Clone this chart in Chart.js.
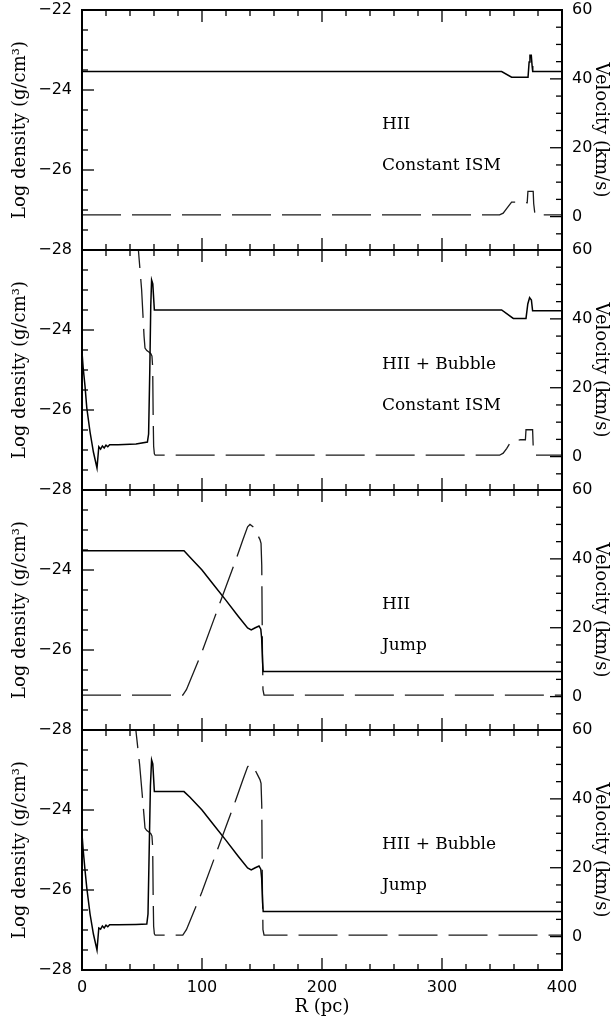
<!DOCTYPE html>
<html>
<head>
<meta charset="utf-8">
<script src="https://cdn.jsdelivr.net/npm/chart.js@4.4.1/dist/chart.umd.min.js"></script>
<style>
  html, body { margin: 0; padding: 0; background: #fff; }
  #fig { position: relative; width: 611px; height: 1023px; overflow: hidden; }
  #fig canvas { position: absolute; left: 0; }
</style>
</head>
<body>
<div id="fig">
  <canvas id="p1" width="611" height="280" style="top:-10px"></canvas>
  <canvas id="p2" width="611" height="280" style="top:230px"></canvas>
  <canvas id="p3" width="611" height="280" style="top:470px"></canvas>
  <canvas id="p4" width="611" height="313" style="top:710px"></canvas>
</div>
<script>
// tick labels
const rTickLabels = [0, 100, 200, 300, 400];
const densTickLabels = [-22, -24, -26, -28];
const velTickLabels = [0, 20, 40, 60];

// panel captions
const panelTitles = [
    ['HII', 'Constant ISM'],
    ['HII + Bubble', 'Constant ISM'],
    ['HII', 'Jump'],
    ['HII + Bubble', 'Jump']
];

// Panel 1: HII, constant ISM
const r1Dens = [0, 349.7, 358, 371.7, 372.6, 373.3, 374.4, 375.1, 375.6, 400];
const dens1  = [-23.54, -23.54, -23.68, -23.68, -23.3, -23.13, -23.13, -23.4, -23.54, -23.54];
const r1Vel  = [0, 348, 351, 354, 358, 366, 371, 371.6, 376, 376.4, 377.5, 400];
const vel1   = [0.5, 0.5, 1.0, 2.4, 4.2, 4.2, 4.0, 7.3, 7.3, 3.8, 0.5, 0.5];

// Panel 2: HII + bubble, constant ISM
const r2Dens = [0, 1, 2.5, 4, 6.7, 9.5, 12.5, 14, 15.5, 17, 18.5, 20, 21.5, 23, 30, 45, 54.5, 55.5, 56.5, 57.3, 58, 59, 60.3, 349.7, 359.4, 370, 371.5, 373, 374.5, 375.5, 400];
const dens2  = [-24.55, -24.95, -25.4, -25.95, -26.55, -27.05, -27.45, -26.92, -26.98, -26.9, -26.95, -26.88, -26.92, -26.87, -26.87, -26.85, -26.8, -26.6, -25.0, -23.4, -22.75, -22.85, -23.5, -23.5, -23.71, -23.71, -23.35, -23.19, -23.25, -23.52, -23.52];
const r2Vel  = [44, 47, 49.7, 51.7, 52.5, 54, 56, 57.5, 58.3, 58.9, 59.3, 59.7, 60.3, 61, 348, 351, 354, 357.5, 365.5, 369.5, 370, 375.5, 376, 377.5, 400];
const vel2   = [66, 60, 48.4, 35, 31.5, 30.8, 30.3, 29.8, 29.2, 26, 12, 3, 0.8, 0.4, 0.4, 1.0, 2.4, 4.4, 4.9, 4.9, 7.8, 7.8, 3, 0.4, 0.4];

// Panel 3: HII, density jump
const r3Dens = [0, 85, 90, 100, 110, 120, 130, 138, 141, 144, 147.5, 149, 149.7, 150.5, 151, 400];
const dens3  = [-23.52, -23.52, -23.68, -24.0, -24.38, -24.76, -25.15, -25.45, -25.5, -25.45, -25.4, -25.48, -25.7, -26.3, -26.54, -26.54];
const r3Vel  = [0, 84, 87, 90, 100, 110, 120, 128, 134, 138, 140, 143, 146, 148.3, 149.2, 149.8, 150.3, 150.8, 151.7, 400];
const vel3   = [0.4, 0.4, 2, 4.5, 13, 22.5, 32, 39.5, 45.5, 49.3, 50, 49.2, 47.2, 45.6, 44.5, 38, 15, 2, 0.4, 0.4];

// Panel 4: HII + bubble, density jump
const r4Dens = [0, 1, 2.5, 4, 6.7, 9.5, 12.5, 14, 15.5, 17, 18.5, 20, 21.5, 23, 30, 45, 54, 55, 56, 57, 58, 59, 60.3, 85, 90, 100, 110, 120, 130, 138, 141, 144, 147.5, 149, 149.7, 150.5, 151, 400];
const dens4  = [-24.6, -25.0, -25.5, -25.95, -26.6, -27.1, -27.5, -26.95, -26.98, -26.9, -26.95, -26.88, -26.92, -26.87, -26.87, -26.86, -26.85, -26.6, -25.0, -23.4, -22.75, -22.85, -23.54, -23.54, -23.68, -24.0, -24.38, -24.76, -25.15, -25.45, -25.5, -25.45, -25.4, -25.48, -25.7, -26.3, -26.54, -26.54];
const r4Vel  = [43, 45.5, 48, 50, 51.7, 52.5, 54, 56, 57.5, 58.3, 58.9, 59.3, 59.7, 60.3, 61, 84, 87, 90, 100, 110, 120, 128, 134, 138, 140, 143, 146, 148.3, 149.2, 149.8, 150.3, 150.8, 151.7, 400];
const vel4   = [66, 58, 50, 42, 35, 31.5, 30.8, 30.3, 29.8, 29.2, 26, 12, 3, 0.8, 0.4, 0.4, 2, 4.5, 13, 22.5, 32, 39.5, 45.5, 49.3, 50, 49.2, 47.2, 45.6, 44.5, 38, 15, 2, 0.4, 0.4];

const panels = [
    { id: 'p1', rDens: r1Dens, dens: dens1, rVel: r1Vel, vel: vel1 },
    { id: 'p2', rDens: r2Dens, dens: dens2, rVel: r2Vel, vel: vel2 },
    { id: 'p3', rDens: r3Dens, dens: dens3, rVel: r3Vel, vel: vel3 },
    { id: 'p4', rDens: r4Dens, dens: dens4, rVel: r4Vel, vel: vel4 }
];

Chart.defaults.font.family = '"DejaVu Sans", sans-serif';
Chart.defaults.color = '#000';

const numFont = { family: '"DejaVu Sans", sans-serif', size: 16 };
const labelFont = { family: '"DejaVu Serif", serif', size: 18 };
const minus = v => (v < 0 ? '\u2212' + Math.abs(v) : String(v));

// frame, inward tick marks and the panel caption
const frameTicks = {
    id: 'frameTicks',
    afterDraw(chart, args, opts) {
        const { ctx, chartArea: a, scales } = chart;
        const x = scales.x, y = scales.y, v = scales.v;
        ctx.save();
        ctx.strokeStyle = '#000';
        ctx.lineWidth = 1.3;
        const seg = (x0, y0, x1, y1) => {
            ctx.beginPath(); ctx.moveTo(x0, y0); ctx.lineTo(x1, y1); ctx.stroke();
        };
        for (let r = x.min; r <= x.max; r += 20) {
            const px = x.getPixelForValue(r);
            const len = r % 100 === 0 ? 12 : 6;
            seg(px, a.top, px, a.top + len);
            seg(px, a.bottom, px, a.bottom - len);
        }
        for (let d = y.min; d <= y.max + 1e-9; d += 0.5) {
            const py = y.getPixelForValue(d);
            seg(a.left, py, a.left + (d % 2 === 0 ? 12 : 6), py);
        }
        for (let s = Math.ceil(v.min / 5) * 5; s <= v.max; s += 5) {
            const py = v.getPixelForValue(s);
            seg(a.right, py, a.right - (s % 20 === 0 ? 12 : 6), py);
        }
        ctx.lineWidth = 2;
        ctx.strokeRect(a.left, a.top, a.right - a.left, a.bottom - a.top);

        ctx.fillStyle = '#000';
        ctx.font = '17px "DejaVu Serif", serif';
        ctx.textAlign = 'left';
        ctx.textBaseline = 'middle';
        const tx = x.getPixelForValue(250);
        ctx.fillText(opts.lines[0], tx, y.getPixelForValue(-24.875));
        ctx.fillText(opts.lines[1], tx, y.getPixelForValue(-25.9));
        ctx.restore();
    }
};

panels.forEach((p, i) => {
    const bottom = i === panels.length - 1;
    const ctx = document.getElementById(p.id).getContext('2d');
    new Chart(ctx, {
        type: 'line',
        data: {
            datasets: [{
                label: 'Log density',
                data: p.rDens.map((r, k) => ({ x: r, y: p.dens[k] })),
                yAxisID: 'y',
                borderColor: '#000',
                borderWidth: 1.5,
                pointRadius: 0,
                tension: 0
            }, {
                label: 'Velocity',
                data: p.rVel.map((r, k) => ({ x: r, y: p.vel[k] })),
                yAxisID: 'v',
                borderColor: '#1a1a1a',
                borderWidth: 1.3,
                borderDash: [39, 11],
                pointRadius: 0,
                tension: 0
            }]
        },
        options: {
            responsive: false,
            animation: false,
            devicePixelRatio: 1,
            layout: { padding: { top: 20, bottom: bottom ? 0 : 20, left: 0, right: 0 } },
            plugins: {
                legend: { display: false },
                tooltip: { enabled: false },
                frameTicks: { lines: panelTitles[i] }
            },
            scales: {
                x: {
                    type: 'linear',
                    min: 0,
                    max: 400,
                    display: bottom,
                    grid: { display: false, drawTicks: false },
                    border: { display: false },
                    ticks: {
                        stepSize: 20,
                        autoSkip: false,
                        maxRotation: 0,
                        padding: 8,
                        font: numFont,
                        callback: v => (rTickLabels.includes(v) ? String(v) : '')
                    },
                    title: { display: true, text: 'R (pc)', font: labelFont, padding: { top: 0, bottom: 5 } },
                    afterFit: s => { if (bottom) s.height = 53; }
                },
                y: {
                    position: 'left',
                    min: -28,
                    max: -22,
                    grid: { display: false, drawTicks: false },
                    border: { display: false },
                    ticks: {
                        stepSize: 0.5,
                        autoSkip: false,
                        padding: 10,
                        font: numFont,
                        callback: v => (densTickLabels.includes(v) && !(i > 0 && v === -22) ? minus(v) : '')
                    },
                    title: { display: true, text: 'Log density (g/cm\u00b3)', font: labelFont, padding: { top: 10, bottom: 0 } },
                    afterFit: s => { s.width = 82; }
                },
                v: {
                    position: 'right',
                    min: -9.7,
                    max: 60,
                    grid: { display: false, drawTicks: false },
                    border: { display: false },
                    ticks: {
                        stepSize: 5,
                        autoSkip: false,
                        padding: 10,
                        font: numFont,
                        callback: v => (velTickLabels.includes(v) ? String(v) : '')
                    },
                    title: { display: true, text: 'Velocity (km/s)', font: labelFont, padding: { top: 0, bottom: 0 } },
                    afterFit: s => { s.width = 49; }
                }
            }
        },
        plugins: [frameTicks]
    });
});
</script>
</body>
</html>
